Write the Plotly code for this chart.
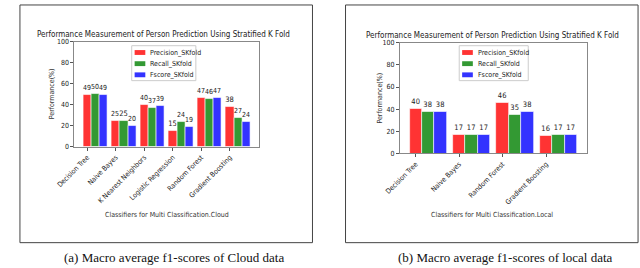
import plotly.graph_objects as go

cloud_classifiers = ["Decision Tree", "Naive Bayes", "K Nearest Neighbors",
                     "Logistic Regression", "Random Forest", "Gradient Boosting"]
cloud_precision = [49, 25, 40, 15, 47, 38]
cloud_recall = [50, 25, 37, 24, 46, 27]
cloud_fscore = [49, 20, 39, 19, 47, 24]

local_classifiers = ["Decision Tree", "Naive Bayes", "Random Forest", "Gradient Boosting"]
local_precision = [40, 17, 46, 16]
local_recall = [38, 17, 35, 17]
local_fscore = [38, 17, 38, 17]

series_names = ["Precision_SKfold", "Recall_SKfold", "Fscore_SKfold"]
colors = ["rgb(255,51,51)", "rgb(51,153,51)", "rgb(51,51,255)"]
yticks = [0, 20, 40, 60, 80, 100]

W, H = 640, 268
BW = 0.285
FONT = "DejaVu Sans Condensed, DejaVu Sans, sans-serif"

fig = go.Figure()

def add_panel(cats, series, xa, ya):
    idx = list(range(len(cats)))
    for k, (name, vals, col) in enumerate(zip(series_names, series, colors)):
        fig.add_trace(go.Bar(
            x=idx, y=vals, name=name, width=BW, offset=-BW / 2 + k * BW,
            marker=dict(color=col, line=dict(color="white", width=0.6)),
            text=vals, textposition="outside", cliponaxis=False,
            textfont=dict(size=7.5, color="#222", family=FONT),
            xaxis=xa, yaxis=ya, showlegend=False))

add_panel(cloud_classifiers, [cloud_precision, cloud_recall, cloud_fscore], "x", "y")
add_panel(local_classifiers, [local_precision, local_recall, local_fscore], "x2", "y2")

def px(x):
    return x / W

def py(y):
    return 1 - y / H

axis_common = dict(showline=True, linecolor="#888", linewidth=1, mirror=True,
                   ticks="outside", ticklen=3, tickcolor="#555", showgrid=False,
                   zeroline=False, tickfont=dict(size=7, color="#222", family=FONT))

n1, n2 = len(cloud_classifiers), len(local_classifiers)
shapes = [
    dict(type="rect", xref="paper", yref="paper", x0=px(2), x1=px(303),
         y0=py(246), y1=py(1), line=dict(color="#444", width=1)),
    dict(type="rect", xref="paper", yref="paper", x0=px(337), x1=px(638),
         y0=py(246), y1=py(1), line=dict(color="#444", width=1)),
]
ann = []

# legend boxes (one per panel), built from the series names and colours
for (lx0, lx1) in [(117, 183), (454, 525)]:
    shapes.append(dict(type="rect", xref="paper", yref="paper",
                       x0=px(lx0), x1=px(lx1), y0=py(79), y1=py(43),
                       fillcolor="white", line=dict(color="#ccc", width=1), layer="above"))
    for k, (name, col) in enumerate(zip(series_names, colors)):
        yc = 50 + k * 11.5
        shapes.append(dict(type="rect", xref="paper", yref="paper",
                           x0=px(lx0 + 3), x1=px(lx0 + 14), y0=py(yc + 2.5), y1=py(yc - 2.5),
                           fillcolor=col, line=dict(width=0), layer="above"))
        ann.append(dict(text=name, x=px(lx0 + 17), y=py(yc), xanchor="left",
                        font=dict(size=7, color="#222", family=FONT)))

fig.update_layout(
    width=W, height=H, margin=dict(l=0, r=0, t=0, b=0),
    paper_bgcolor="white", plot_bgcolor="white", barmode="overlay",
    bargap=0, showlegend=False,
    xaxis=dict(domain=[px(58), px(248)], anchor="y",
               range=[-BW / 2 - 0.31, n1 - 1 + 2.5 * BW + 0.31],
               tickmode="array", tickvals=list(range(n1)), ticktext=cloud_classifiers,
               tickangle=-45, **axis_common),
    yaxis=dict(domain=[py(147), py(39)], anchor="x", range=[0, 100],
               tickmode="array", tickvals=yticks, **axis_common),
    xaxis2=dict(domain=[px(393), px(585)], anchor="y2",
                range=[-BW / 2 - 0.22, n2 - 1 + 2.5 * BW + 0.22],
                tickmode="array", tickvals=list(range(n2)), ticktext=local_classifiers,
                tickangle=-45, **axis_common),
    yaxis2=dict(domain=[py(154), py(40)], anchor="x2", range=[0, 100],
                tickmode="array", tickvals=yticks, **axis_common),
    shapes=shapes,
)

title = "Performance Measurement of Person Prediction Using Stratified K Fold"
ann += [
    dict(text=title, x=px(150), y=py(31), font=dict(size=8, color="#222", family=FONT)),
    dict(text=title, x=px(488), y=py(32), font=dict(size=8, color="#222", family=FONT)),
    dict(text="Performance(%)", x=px(35), y=py(93), textangle=-90,
         font=dict(size=7, color="#333", family=FONT)),
    dict(text="Performance(%)", x=px(373), y=py(97), textangle=-90,
         font=dict(size=7, color="#333", family=FONT)),
    dict(text="Classifiers for Multi Classification.Cloud", x=px(153), y=py(217),
         font=dict(size=7, color="#333", family=FONT)),
    dict(text="Classifiers for Multi Classification.Local", x=px(488), y=py(217),
         font=dict(size=7, color="#333", family=FONT)),
    dict(text="(a) Macro average f1-scores of Cloud data", x=px(160), y=py(261),
         font=dict(size=13, color="#111", family="Liberation Serif, serif")),
    dict(text="(b) Macro average f1-scores of local data", x=px(502), y=py(261),
         font=dict(size=13, color="#111", family="Liberation Serif, serif")),
]
for a in ann:
    a.setdefault("xanchor", "center")
    a.update(xref="paper", yref="paper", showarrow=False, yanchor="middle")
    fig.add_annotation(**a)

fig.write_html("out.html", config={"displayModeBar": False},
               post_script="document.body.style.margin='0';document.body.style.overflow='hidden';")
